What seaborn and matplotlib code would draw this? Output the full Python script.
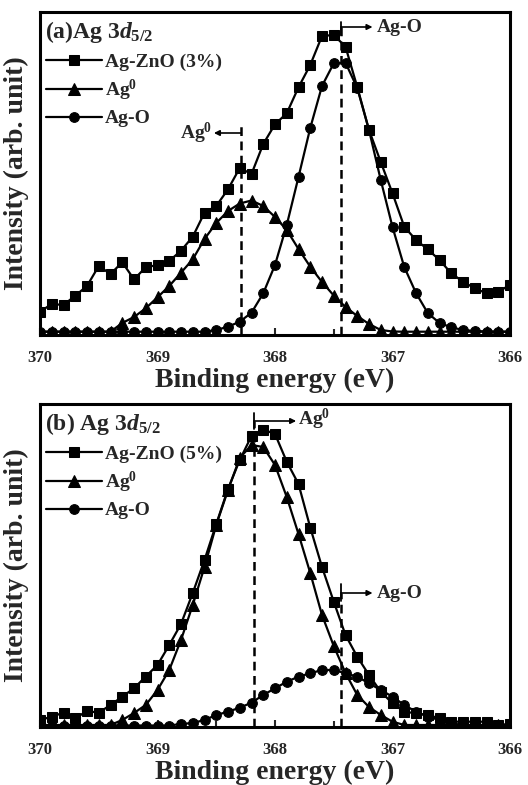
import matplotlib
matplotlib.use("Agg")
import matplotlib.pyplot as plt
import numpy as np
import pandas as pd
import seaborn as sns

# ---------------- data ----------------
energy = [370.0, 369.9, 369.8, 369.7, 369.6, 369.5, 369.4, 369.3, 369.2, 369.1,
          369.0, 368.9, 368.8, 368.7, 368.6, 368.5, 368.4, 368.3, 368.2, 368.1,
          368.0, 367.9, 367.8, 367.7, 367.6, 367.5, 367.4, 367.3, 367.2, 367.1,
          367.0, 366.9, 366.8, 366.7, 366.6, 366.5, 366.4, 366.3, 366.2, 366.1,
          366.0]

a_total = [23.3, 31, 30, 39.3, 49, 69, 61, 72.7, 55.7, 67.7,
           70, 74, 84.3, 98.3, 122.3, 129, 145.7, 167, 161, 191,
           210.7, 221.7, 247.7, 270, 299, 300, 288.3, 248, 205, 173,
           141.7, 108.3, 95, 85.7, 75, 61.7, 53.3, 46.7, 41.7, 43.3,
           50]
a_ag0 = [3.3, 3.3, 3.3, 3.3, 3.3, 3.3, 3.3, 12, 18, 26.7,
         37.7, 49, 62.3, 75.7, 96, 112, 124, 131.5, 134.5, 129,
         118, 105, 86, 68.3, 53, 39.5, 28, 19, 11, 5,
         3.5, 3.3, 3.3, 3.3, 3.3, 3.3, 3.3, 3.3, 3.3, 3.3,
         3.3]
a_ago = [3.3, 3.3, 3.3, 3.3, 3.3, 3.3, 3.3, 3.3, 3.3, 3.3,
         3.3, 3.3, 3.3, 3.3, 3.3, 5, 8.3, 13.3, 22.3, 41.7,
         70, 110, 158, 207, 249, 271.7, 272.3, 247, 205, 155,
         108, 68, 42, 22, 12, 7.7, 5, 4, 3.5, 3.3,
         3.3]

b_total = [7, 10.3, 14.3, 8.7, 16, 14.3, 22, 30.3, 38.7, 50.5,
           62, 82, 103, 134, 167, 203, 238, 267, 291, 297.5,
           293, 265.3, 243, 199.5, 160, 125.3, 92, 70.3, 52, 35.3,
           23.7, 15.3, 13.7, 12, 8.7, 5.3, 5.3, 5.3, 5.3, 2,
           3]
b_ag0 = [2, 2, 2, 2, 2, 2, 2, 7, 14, 22,
         37, 57, 87, 122, 160, 202, 237, 269, 282, 280,
         262, 230, 193, 154, 112, 81, 54, 32, 20, 12,
         5.3, 2, 2, 2, 2, 2, 2, 2, 2, 2,
         2]
b_ago = [1.5, 1.5, 1.5, 1.5, 1.5, 1.5, 1.5, 1.5, 1.5, 1.5,
         1.5, 1.5, 3, 4, 7, 12, 15.3, 19.3, 24.3, 32,
         38.7, 45.3, 50.3, 53.7, 57, 57, 53.7, 50.3, 43.7, 37,
         30.3, 22, 15.3, 10.3, 7, 3.7, 2, 2, 2, 2,
         2]

labels_a = ["Ag-ZnO (3%)", "Ag$^0$", "Ag-O"]
labels_b = ["Ag-ZnO (5%)", "Ag$^0$", "Ag-O"]
titles = ["(a)Ag $\\mathit{3d}_{\\mathit{5/2}}$", "(b) Ag $\\mathit{3d}_{\\mathit{5/2}}$"]
xticks = [370, 369, 368, 367, 366]
xlabel = "Binding energy (eV)"
ylabel = "Intensity (arb. unit)"

# ---------------- style ----------------
sns.set_theme(style="white")
plt.rcParams["font.family"] = ["Liberation Serif", "DejaVu Serif"]
plt.rcParams["font.weight"] = "bold"
plt.rcParams["axes.labelweight"] = "bold"
plt.rcParams["mathtext.fontset"] = "custom"
plt.rcParams["mathtext.rm"] = "Liberation Serif:bold"
plt.rcParams["mathtext.bf"] = "Liberation Serif:bold"
plt.rcParams["mathtext.it"] = "Liberation Serif:italic:bold"

W, H = 528, 785
fig = plt.figure(figsize=(W / 100, H / 100), dpi=100)

def frac_box(l, t, r, b):
    return [l / W, 1 - b / H, (r - l) / W, (b - t) / H]

ax_a = fig.add_axes(frac_box(40, 12, 510, 335))
ax_b = fig.add_axes(frac_box(40, 404, 510, 727))

markers = ["s", "^", "o"]
msizes = [7.3, 8, 7]

def draw_panel(ax, series, labels, title):
    for vals, lab, m, ms in zip(series, labels, markers, msizes):
        df = pd.DataFrame({"E": energy, "I": vals})
        sns.lineplot(data=df, x="E", y="I", ax=ax, color="black", marker=m,
                     markersize=ms, markeredgecolor="black", linewidth=1.6,
                     sort=False, label=lab, zorder=3)
    ax.set_xlim(370, 366)
    ax.set_ylim(0, 323)
    ax.set_xticks(xticks)
    ax.set_xticks([369.5, 368.5, 367.5, 366.5], minor=True)
    ax.set_yticks([])
    ax.tick_params(axis="x", which="both", direction="in", bottom=True,
                   top=False, width=1.5, labelsize=12, pad=11)
    ax.tick_params(axis="x", which="major", length=5)
    ax.tick_params(axis="x", which="minor", length=4)
    for lbl in ax.get_xticklabels():
        lbl.set_fontweight("bold")
    for sp in ax.spines.values():
        sp.set_linewidth(2.2)
        sp.set_color("black")
    ax.set_xlabel(xlabel, fontsize=20, fontweight="bold", labelpad=1)
    ax.set_ylabel(ylabel, fontsize=20, fontweight="bold", labelpad=8)
    leg = ax.legend(loc="upper left", bbox_to_anchor=(0.0, 0.89), frameon=False,
                    fontsize=14, handlelength=2.9, handletextpad=0.15,
                    labelspacing=0.35, borderpad=0.1, borderaxespad=0.2)
    for t in leg.get_texts():
        t.set_fontweight("bold")
    ax.text(0.011, 0.918, title, transform=ax.transAxes, fontsize=17,
            fontweight="bold", ha="left", va="baseline")

draw_panel(ax_a, [a_total, a_ag0, a_ago], labels_a, titles[0])
draw_panel(ax_b, [b_total, b_ag0, b_ago], labels_b, titles[1])

dash = (0, (3.5, 2.2))
arrow_kw = dict(arrowstyle="-|>", lw=1.2, color="black", mutation_scale=8,
                shrinkA=0, shrinkB=0)

# panel (a) markers
ax_a.plot([368.29, 368.29], [0, 210], ls=dash, lw=1.8, color="black", zorder=1)
ax_a.annotate("", xy=(368.52, 202), xytext=(368.29, 202), arrowprops=arrow_kw)
ax_a.text(368.53, 202, "Ag$^0$", fontsize=14, fontweight="bold", ha="right", va="center")
ax_a.plot([367.44, 367.44], [0, 313], ls=dash, lw=1.8, color="black", zorder=1)
ax_a.plot([367.44, 367.44], [300, 313], lw=1.3, color="black", zorder=1)
ax_a.annotate("", xy=(367.17, 308), xytext=(367.44, 308), arrowprops=arrow_kw)
ax_a.text(367.13, 308, "Ag-O", fontsize=14, fontweight="bold", ha="left", va="center")

# panel (b) markers
ax_b.plot([368.18, 368.18], [0, 306], ls=dash, lw=1.8, color="black", zorder=1)
ax_b.plot([368.18, 368.18], [298, 314], lw=1.3, color="black", zorder=1)
ax_b.annotate("", xy=(367.82, 306), xytext=(368.18, 306), arrowprops=arrow_kw)
ax_b.text(367.80, 308, "Ag$^0$", fontsize=14, fontweight="bold", ha="left", va="center")
ax_b.plot([367.44, 367.44], [0, 134], ls=dash, lw=1.8, color="black", zorder=1)
ax_b.plot([367.44, 367.44], [126, 143], lw=1.3, color="black", zorder=1)
ax_b.annotate("", xy=(367.17, 134), xytext=(367.44, 134), arrowprops=arrow_kw)
ax_b.text(367.13, 134, "Ag-O", fontsize=14, fontweight="bold", ha="left", va="center")

fig.savefig("out.png", dpi=100)
